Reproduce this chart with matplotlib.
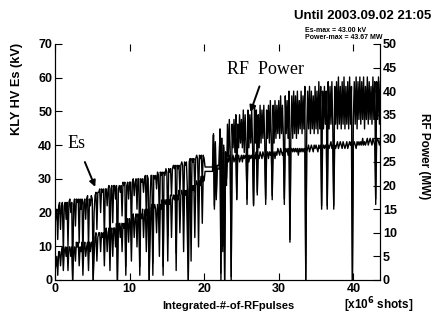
import numpy as np
import matplotlib
matplotlib.use("Agg")
import matplotlib.pyplot as plt

plt.rcParams['font.family'] = ['Liberation Sans', 'DejaVu Sans']

# klystron HV Es (kV), 8 samples per 1e6 shots (one row = 1e6 shots)
es_kv = [16, 19, 21, 12, 22, 23, 15, 22,
         23, 8, 22, 23, 18, 23, 10, 23,
         24, 20, 23, 0, 22, 24, 16, 24,
         23, 24, 11, 24, 21, 24, 6, 23,
         24, 18, 24, 25, 9, 24, 22, 25,
         24, 0, 20, 25, 26, 15, 26, 26,
         27, 20, 27, 26, 27, 12, 27, 27,
         22, 27, 28, 8, 27, 28, 17, 28,
         28, 24, 28, 0, 27, 28, 26, 28,
         19, 29, 28, 29, 4, 28, 29, 24,
         29, 29, 14, 29, 30, 25, 29, 30,
         21, 30, 30, 4, 30, 29, 30, 26,
         30, 31, 19, 31, 30, 0, 24, 31,
         31, 5, 31, 30, 31, 27, 32, 31,
         17, 32, 31, 32, 4, 32, 31, 33,
         32, 13, 33, 32, 33, 25, 33, 34,
         33, 34, 8, 34, 33, 34, 26, 34,
         35, 34, 19, 35, 34, 35, 27, 0,
         35, 36, 15, 36, 35, 36, 26, 36,
         37, 36, 23, 37, 36, 37, 29, 37,
         36, 33.5, 33.5, 33.5, 33.5, 33.5, 33.5, 33.5,
         33.5, 33.5, 43, 22, 41, 25, 34, 34,
         34, 44, 2, 42, 10, 40, 0, 38,
         30, 36, 35, 37, 35, 1, 36, 37,
         35, 36, 37, 24, 36, 37, 35, 36,
         37, 35, 37, 36, 37, 36, 24, 37,
         35, 37, 36, 37, 36, 22, 37, 36,
         38, 26, 37, 36, 38, 37, 36, 38,
         37, 36, 24, 37, 38, 36, 38, 37,
         38, 25, 37, 38, 36, 38, 37, 39,
         38, 37, 39, 38, 37, 38, 24, 39,
         38, 39, 37, 39, 12, 38, 39, 38,
         39, 38, 39, 38, 39, 37, 39, 38,
         39, 38, 39, 38, 39, 0, 38, 39,
         40, 38, 39, 40, 39, 38, 40, 39,
         40, 39, 38, 40, 39, 40, 22, 39,
         40, 39, 40, 39, 22, 40, 39, 40,
         41, 39, 40, 22, 40, 39, 40, 41,
         39, 40, 41, 40, 39, 41, 40, 39,
         40, 41, 39, 40, 41, 40, 41, 0,
         40, 41, 40, 39, 41, 40, 41, 40,
         41, 40, 42, 40, 41, 40, 41, 42,
         40, 41, 42, 41, 40, 42, 41, 40,
         24, 41, 42, 41, 40, 42]

# RF power (MW), same samples
rf_mw = [2, 3, 5, 1, 6, 6, 3, 6,
         7, 2, 6, 7, 5, 7, 2, 7,
         7, 5, 7, 0, 6, 7, 4, 8,
         7, 8, 3, 7, 6, 8, 1, 7,
         8, 5, 7, 8, 2, 8, 6, 8,
         8, 0, 5, 9, 10, 4, 9, 10,
         10, 6, 10, 9, 10, 3, 10, 11,
         6, 10, 11, 2, 10, 11, 5, 11,
         11, 7, 12, 0, 11, 12, 9, 12,
         6, 12, 11, 12, 1, 12, 13, 8,
         13, 12, 4, 13, 14, 9, 13, 14,
         7, 14, 13, 1, 14, 13, 15, 9,
         14, 15, 6, 15, 14, 0, 8, 15,
         16, 1, 15, 16, 15, 10, 16, 15,
         5, 16, 15, 17, 1, 16, 17, 16,
         17, 4, 17, 16, 18, 9, 17, 18,
         17, 18, 2, 18, 17, 19, 10, 18,
         19, 18, 6, 19, 18, 19, 10, 0,
         19, 20, 4, 20, 19, 20, 9, 20,
         21, 20, 7, 21, 20, 22, 12, 22,
         21, 23, 23, 23, 23, 23, 23, 23,
         23, 23, 31, 15, 29, 17, 23.5, 23.5,
         23.5, 32, 0, 30, 6, 28, 0, 27,
         20, 33, 26, 34, 27, 0, 33, 28,
         34, 27, 35, 17, 33, 28, 35, 29,
         34, 28, 36, 27, 35, 29, 16, 36,
         28, 35, 29, 36, 28, 16, 37, 29,
         36, 18, 35, 28, 37, 29, 36, 30,
         37, 29, 16, 36, 30, 37, 29, 38,
         30, 17, 37, 29, 38, 30, 37, 31,
         38, 30, 39, 31, 37, 30, 16, 39,
         31, 38, 30, 40, 8, 31, 39, 30,
         40, 31, 39, 30, 40, 31, 38, 32,
         40, 31, 39, 32, 41, 0, 31, 40,
         32, 41, 31, 40, 32, 39, 31, 41,
         32, 40, 31, 42, 32, 41, 15, 40,
         32, 41, 33, 40, 15, 42, 32, 41,
         33, 42, 32, 15, 41, 33, 42, 32,
         43, 33, 41, 32, 42, 33, 43, 32,
         41, 33, 42, 32, 43, 33, 41, 0,
         34, 42, 33, 43, 32, 42, 34, 43,
         33, 42, 34, 43, 32, 41, 34, 43,
         33, 42, 34, 41, 33, 43, 34, 42,
         16, 42, 34, 43, 33, 42]

shots = np.arange(len(es_kv)) * 0.125

fig = plt.figure(figsize=(4.36, 3.16), dpi=100)
ax = fig.add_axes([0.126, 0.114, 0.746, 0.747])
ax2 = ax.twinx()

ax.plot(shots, es_kv, color='black', lw=1.0)
ax2.plot(shots, rf_mw, color='black', lw=1.0)

ax.set_xlim(0, 43.6)
ax.set_ylim(0, 70)
ax2.set_ylim(0, 50)
ax.set_xticks([0, 10, 20, 30, 40])
ax.set_yticks(np.arange(0, 71, 10))
ax2.set_yticks(np.arange(0, 51, 5))

for a in (ax, ax2):
    a.spines['top'].set_visible(False)
ax.tick_params(axis='both', direction='in', length=5, labelsize=9, pad=2,
               top=True)
ax2.tick_params(axis='y', direction='in', length=5, labelsize=9, pad=2)
for lab in ax.get_xticklabels() + ax.get_yticklabels() + ax2.get_yticklabels():
    lab.set_fontweight('bold')

ax.annotate('Es', xy=(5.4, 27.6), xytext=(2.95, 40.6), family='Liberation Serif',
            fontsize=13, ha='center', va='center',
            arrowprops=dict(arrowstyle='-|>', color='black', lw=1.4,
                            shrinkA=6, shrinkB=0, mutation_scale=9))
ax.annotate('RF  Power', xy=(26.2, 49.8), xytext=(28.2, 62.3),
            family='Liberation Serif', fontsize=13, ha='center', va='center',
            arrowprops=dict(arrowstyle='-|>', color='black', lw=1.4,
                            shrinkA=4, shrinkB=0, mutation_scale=9))

fig.text(0.038, 0.72, 'KLY HV Es (kV)', rotation=90, ha='center', va='center',
         fontsize=9.2, fontweight='bold')
fig.text(0.972, 0.505, 'RF Power (MW)', rotation=-90, ha='center', va='center',
         fontsize=8.5, fontweight='bold')
fig.text(0.523, 0.022, 'Integrated-#-of-RFpulses', ha='center', va='baseline',
         fontsize=8, fontweight='bold')
fig.text(0.869, 0.022, '[x10$^\\mathbf{6}$ shots]', ha='center', va='baseline',
         fontsize=8.5, fontweight='bold')
fig.text(0.99, 0.95, 'Until 2003.09.02 21:05', ha='right', va='center',
         fontsize=9.5, fontweight='bold')
fig.text(0.70, 0.903, 'Es-max = 43.00 kV', ha='left', va='center', fontsize=5,
         fontweight='bold')
fig.text(0.70, 0.88, 'Power-max = 43.67 MW', ha='left', va='center',
         fontsize=5, fontweight='bold')

fig.savefig('out.png', dpi=100)
